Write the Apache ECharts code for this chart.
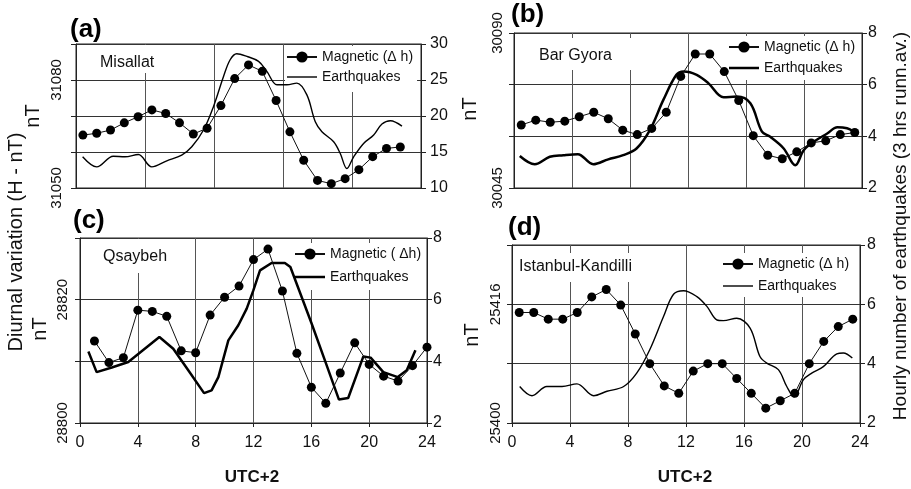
<!DOCTYPE html>
<html><head><meta charset="utf-8">
<script src="https://cdn.jsdelivr.net/npm/echarts@6/dist/echarts.min.js"></script>
<style>html,body{margin:0;padding:0;background:#fff}#c{width:911px;height:489px}</style>
</head><body><div id="c"></div>
<script>
// ---------- data ----------
const hoursHalf = [0.5,1.5,2.5,3.5,4.5,5.5,6.5,7.5,8.5,9.5,10.5,11.5,12.5,13.5,14.5,15.5,16.5,17.5,18.5,19.5,20.5,21.5,22.5,23.5];
const hoursInt  = [1,2,3,4,5,6,7,8,9,10,11,12,13,14,15,16,17,18,19,20,21,22,23,24];

// Magnetic (nT)
const magA = [31064.7,31065.2,31066.1,31068.1,31069.8,31071.7,31070.7,31068.1,31065.0,31066.6,31072.9,31080.4,31084.2,31082.4,31074.3,31065.6,31057.7,31052.1,31051.2,31052.6,31055.1,31058.7,31061.0,31061.4];
const magB = [30063.3,30064.7,30064.1,30064.4,30065.7,30067.0,30065.1,30061.8,30060.5,30062.3,30067.0,30077.4,30083.9,30083.9,30078.8,30070.4,30060.2,30054.5,30053.5,30055.5,30058.1,30058.7,30060.5,30061.1];
const magC = [28813.3,28809.8,28810.6,28818.3,28818.1,28817.3,28811.7,28811.4,28817.5,28820.4,28822.2,28826.5,28828.2,28821.4,28811.3,28805.8,28803.2,28808.1,28813.0,28809.5,28807.6,28806.8,28809.3,28812.3];
const magD = [25414.9,25414.9,25414.0,25414.0,25414.9,25417.0,25418.0,25415.9,25412.0,25408.0,25405.0,25404.0,25407.0,25408.0,25408.0,25406.0,25404.0,25402.0,25403.0,25404.0,25408.0,25411.0,25413.0,25414.0];

// Earthquakes (hourly number, 3 hrs running average)
const eqA_x = [0.48,1.5,2.7,3.55,4.52,5.49,6.58,7.66,8.39,9.24,9.96,10.69,11.17,11.65,12.38,13.23,13.83,14.56,15.28,16.0,16.73,17.34,17.82,18.67,19.15,19.63,20.12,20.84,21.57,22.17,22.78,23.62];
const eqA_y = [14.33,12.93,14.42,14.33,14.65,12.93,13.77,14.56,15.72,18.05,21.3,25.49,27.81,28.65,28.28,27.58,26.19,24.33,24.33,24.56,22.93,19.21,17.81,16.42,14.79,12.7,14.33,16.19,17.35,18.88,19.35,18.6];
const eqB_x = [0.4,1.43,2.47,3.4,4.4,5.46,6.5,7.53,8.45,9.37,10.3,11.2,11.7,12.6,13.4,14.45,15.37,16.3,17.1,17.67,18.6,19.4,19.98,20.67,21.6,22.3,22.97,23.43];
const eqB_y = [3.24,2.92,3.21,3.27,3.31,2.92,3.11,3.27,3.53,4.24,5.41,6.38,6.51,6.38,6.06,5.51,5.54,5.28,4.18,3.98,3.53,2.88,3.46,3.79,4.11,4.35,4.31,4.18];
const eqC_x = [0.58,1.15,2.2,3.34,5.49,6.45,7.5,8.58,9.1,9.57,10.26,10.95,11.53,11.99,12.45,13.25,14.17,14.55,16.0,17.0,17.91,18.55,19.6,20.1,20.98,21.98,22.6,23.2];
const eqC_y = [4.32,3.65,3.8,3.98,4.79,4.41,3.7,2.97,3.06,3.49,4.68,5.17,5.71,6.3,6.95,7.19,7.19,7.06,5.25,3.95,2.76,2.81,4.16,4.12,3.65,3.49,3.71,4.36];
const eqD_x = [0.53,1.38,2.4,3.45,4.48,5.63,6.55,7.7,8.6,9.5,10.45,11.14,11.83,12.75,13.44,14.12,14.58,15.5,16.42,17.1,17.57,18.37,18.95,19.45,20.1,20.67,21.47,22.4,22.85,23.47];
const eqD_y = [3.23,2.92,3.23,3.23,3.32,2.92,3.07,3.23,3.68,4.47,5.59,6.34,6.46,6.26,5.93,5.48,5.45,5.53,5.2,4.24,4.02,3.8,3.23,2.88,3.46,3.68,3.9,4.33,4.36,4.19];

// Axis ranges & tick labels
const leftA = {min:31050, max:31090, interval:10, labels:[31050,31080]};
const leftB = {min:30045, max:30090, interval:15, labels:[30045,30090]};
const leftC = {min:28800, max:28830, interval:10, labels:[28800,28820]};
const leftD = {min:25400, max:25424, interval:8,  labels:[25400,25416]};
const rightA = {min:10, max:30, interval:5};
const rightBCD = {min:2, max:8, interval:2};
const xA = {min:0, max:25, interval:5};
const xBCD = {min:0, max:24, interval:4};

const stations = ['Misallat','Bar Gyora','Qsaybeh','Istanbul-Kandilli'];
const panelLabels = ['(a)','(b)','(c)','(d)'];
const magNames = ['Magnetic (\u0394 h)','Magnetic (\u0394 h)','Magnetic ( \u0394h)','Magnetic (\u0394 h)'];
const eqName = 'Earthquakes';

// ---------- layout ----------
const FONT = 'Liberation Sans, Arial, sans-serif';
const grids = [
  {left:76, top:44, width:345, height:144},
  {left:514, top:33, width:348, height:155},
  {left:80, top:238, width:347, height:185},
  {left:512, top:245, width:348, height:178}
];
const zip = (xs, ys) => xs.map((x,i)=>[x, ys[i]]);

const lefts = [leftA,leftB,leftC,leftD];
const rights = [rightA,rightBCD,rightBCD,rightBCD];
const xs = [xA,xBCD,xBCD,xBCD];
const mags = [zip(hoursHalf,magA), zip(hoursHalf,magB), zip(hoursInt,magC), zip(hoursHalf,magD)];
const eqs = [zip(eqA_x,eqA_y), zip(eqB_x,eqB_y), zip(eqC_x,eqC_y), zip(eqD_x,eqD_y)];
const eqWidth = [1.4, 2.5, 2.5, 1.4];
const eqSmooth = [0.35, 0.35, false, 0.35];
const leftMargin = [12, 9, 10, 9];
const rightMargin = [9, 6, 6, 7];
const showX = [false,false,true,true];

const gridOpt = grids.map(g => Object.assign({show:true, borderColor:'#222', borderWidth:1, backgroundColor:'transparent', containLabel:false, outerBoundsMode:'none'}, g));

const xAxes = xs.map((x,i)=>({
  type:'value', gridIndex:i, min:x.min, max:x.max, interval:x.interval,
  axisLine:{show:true, lineStyle:{color:'#222', width:1}},
  axisTick:{show:showX[i], length:4, lineStyle:{color:'#222'}},
  axisLabel:{show:showX[i], margin:12, fontSize:16, color:'#111', fontFamily:FONT},
  splitLine:{show:true, lineStyle:{color:'#555', width:1}}
}));

const yAxes = [];
lefts.forEach((l,i)=>{
  yAxes.push({
    type:'value', gridIndex:i, position:'left', min:l.min, max:l.max, interval:l.interval,
    axisLine:{show:true, lineStyle:{color:'#222', width:1}},
    axisTick:{show:true, length:5, lineStyle:{color:'#222'}},
    axisLabel:{rotate:90, margin:leftMargin[i], fontSize:15, color:'#111', fontFamily:FONT,
      formatter: v => l.labels.indexOf(v) >= 0 ? String(v) : ''},
    splitLine:{show:false}
  });
  const r = rights[i];
  yAxes.push({
    type:'value', gridIndex:i, position:'right', min:r.min, max:r.max, interval:r.interval,
    axisLine:{show:true, lineStyle:{color:'#222', width:1}},
    axisTick:{show:true, length:5, lineStyle:{color:'#222'}},
    axisLabel:{margin:rightMargin[i], fontSize:16, color:'#111', fontFamily:FONT},
    splitLine:{show:true, lineStyle:{color:'#333', width:1}}
  });
});

const series = [];
for (let i=0;i<4;i++){
  series.push({
    name: eqName, type:'line', xAxisIndex:i, yAxisIndex:2*i+1, data:eqs[i],
    symbol:'none', smooth:eqSmooth[i], lineStyle:{color:'#000', width:eqWidth[i]}, itemStyle:{color:'#000'}, z:5
  });
  series.push({
    name: magNames[i], type:'line', xAxisIndex:i, yAxisIndex:2*i, data:mags[i],
    symbol:'circle', symbolSize:9, lineStyle:{color:'#111', width:1}, itemStyle:{color:'#000'}, z:5
  });
}

const legendPos = [
  {left:285, top:46, gap:6, pb:8},
  {left:727, top:36, gap:7, pb:5},
  {left:293, top:243, gap:9, pb:6},
  {left:721, top:253, gap:8, pb:4}
];
const eqIcon = w => 'path://M0,0L30,0L30,' + w + 'L0,' + w + 'Z';
const legends = legendPos.map((p,i)=>({
  orient:'vertical', left:p.left, top:p.top, itemWidth:30, itemHeight:14, itemGap:p.gap,
  padding:[4,4,p.pb,1], backgroundColor:'#fff', selectedMode:false,
  textStyle:{fontSize:14, color:'#111', fontFamily:FONT},
  data:[{name:magNames[i]}, {name:eqName, icon:eqIcon(eqWidth[i]), itemStyle:{color:'#000'}}]
}));

const stationPos = [
  {x:100, y:63, box:[96,45,64,28]},
  {x:539, y:56, box:[535,38,105,32]},
  {x:103, y:257, box:[99,239,73,34]},
  {x:519, y:267, box:[515,253,125,29]}
];
const panelPos = [[70,30],[511,15],[73,221],[508,228]];

const graphic = [];
stationPos.forEach((s,i)=>{
  graphic.push({type:'rect', z:1, shape:{x:s.box[0], y:s.box[1], width:s.box[2], height:s.box[3]}, style:{fill:'#fff'}});
  graphic.push({type:'text', z:6, x:s.x, y:s.y, style:{text:stations[i], font:'16px '+FONT, fill:'#111', textAlign:'left', textVerticalAlign:'middle'}});
});
panelPos.forEach((p,i)=>{
  graphic.push({type:'text', z:6, x:p[0], y:p[1], style:{text:panelLabels[i], font:'bold 26px '+FONT, fill:'#000', textAlign:'left', textVerticalAlign:'middle'}});
});
// axis titles
graphic.push({type:'text', z:6, x:16, y:242, rotation:Math.PI/2, style:{text:'Diurnal variation (H - nT)', font:'20px '+FONT, fill:'#111', textAlign:'center', textVerticalAlign:'middle'}});
graphic.push({type:'text', z:6, x:901, y:226, rotation:Math.PI/2, style:{text:'Hourly number of earthquakes (3 hrs runn.av.)', font:'19px '+FONT, fill:'#111', textAlign:'center', textVerticalAlign:'middle'}});
[[33,116],[470,109],[40,329],[472,335]].forEach(p=>{
  graphic.push({type:'text', z:6, x:p[0], y:p[1], rotation:Math.PI/2, style:{text:'nT', font:'20px '+FONT, fill:'#111', textAlign:'center', textVerticalAlign:'middle'}});
});
[[252,477],[685,477]].forEach(p=>{
  graphic.push({type:'text', z:6, x:p[0], y:p[1], style:{text:'UTC+2', font:'bold 17px '+FONT, fill:'#111', textAlign:'center', textVerticalAlign:'middle'}});
});

const chart = echarts.init(document.getElementById('c'), null, {renderer:'canvas'});
chart.setOption({
  animation:false,
  backgroundColor:'#fff',
  grid:gridOpt, xAxis:xAxes, yAxis:yAxes, series:series, legend:legends, graphic:graphic
});
</script></body></html>
